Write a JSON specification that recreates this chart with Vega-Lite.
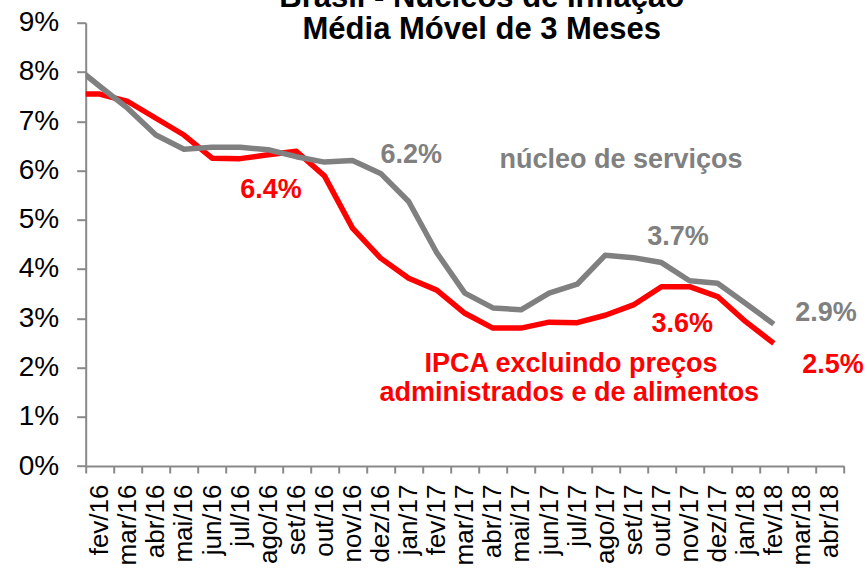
{
  "$schema": "https://vega.github.io/schema/vega-lite/v6.json",
  "width": 758.3,
  "height": 443.3,
  "autosize": {"type": "none"},
  "padding": {"left": 85.7, "top": 22.7, "right": 23, "bottom": 102},
  "background": "white",
  "config": {"view": {"stroke": null}, "font": "Liberation Sans"},
  "datasets": {
    "series": [
      {"i": -1, "mes": "jan/16", "serie": "IPCA excluindo preços administrados e de alimentos", "v": 7.55},
      {"i": 0, "mes": "fev/16", "serie": "IPCA excluindo preços administrados e de alimentos", "v": 7.55},
      {"i": 1, "mes": "mar/16", "serie": "IPCA excluindo preços administrados e de alimentos", "v": 7.40},
      {"i": 2, "mes": "abr/16", "serie": "IPCA excluindo preços administrados e de alimentos", "v": 7.06},
      {"i": 3, "mes": "mai/16", "serie": "IPCA excluindo preços administrados e de alimentos", "v": 6.72},
      {"i": 4, "mes": "jun/16", "serie": "IPCA excluindo preços administrados e de alimentos", "v": 6.25},
      {"i": 5, "mes": "jul/16", "serie": "IPCA excluindo preços administrados e de alimentos", "v": 6.24},
      {"i": 6, "mes": "ago/16", "serie": "IPCA excluindo preços administrados e de alimentos", "v": 6.32},
      {"i": 7, "mes": "set/16", "serie": "IPCA excluindo preços administrados e de alimentos", "v": 6.39},
      {"i": 8, "mes": "out/16", "serie": "IPCA excluindo preços administrados e de alimentos", "v": 5.89},
      {"i": 9, "mes": "nov/16", "serie": "IPCA excluindo preços administrados e de alimentos", "v": 4.83},
      {"i": 10, "mes": "dez/16", "serie": "IPCA excluindo preços administrados e de alimentos", "v": 4.22},
      {"i": 11, "mes": "jan/17", "serie": "IPCA excluindo preços administrados e de alimentos", "v": 3.81},
      {"i": 12, "mes": "fev/17", "serie": "IPCA excluindo preços administrados e de alimentos", "v": 3.57},
      {"i": 13, "mes": "mar/17", "serie": "IPCA excluindo preços administrados e de alimentos", "v": 3.10},
      {"i": 14, "mes": "abr/17", "serie": "IPCA excluindo preços administrados e de alimentos", "v": 2.80},
      {"i": 15, "mes": "mai/17", "serie": "IPCA excluindo preços administrados e de alimentos", "v": 2.80},
      {"i": 16, "mes": "jun/17", "serie": "IPCA excluindo preços administrados e de alimentos", "v": 2.92},
      {"i": 17, "mes": "jul/17", "serie": "IPCA excluindo preços administrados e de alimentos", "v": 2.91},
      {"i": 18, "mes": "ago/17", "serie": "IPCA excluindo preços administrados e de alimentos", "v": 3.06},
      {"i": 19, "mes": "set/17", "serie": "IPCA excluindo preços administrados e de alimentos", "v": 3.27},
      {"i": 20, "mes": "out/17", "serie": "IPCA excluindo preços administrados e de alimentos", "v": 3.64},
      {"i": 21, "mes": "nov/17", "serie": "IPCA excluindo preços administrados e de alimentos", "v": 3.64},
      {"i": 22, "mes": "dez/17", "serie": "IPCA excluindo preços administrados e de alimentos", "v": 3.44},
      {"i": 23, "mes": "jan/18", "serie": "IPCA excluindo preços administrados e de alimentos", "v": 2.93},
      {"i": 24, "mes": "fev/18", "serie": "IPCA excluindo preços administrados e de alimentos", "v": 2.49},
      {"i": -1, "mes": "jan/16", "serie": "núcleo de serviços", "v": 8.17},
      {"i": 0, "mes": "fev/16", "serie": "núcleo de serviços", "v": 7.71},
      {"i": 1, "mes": "mar/16", "serie": "núcleo de serviços", "v": 7.26},
      {"i": 2, "mes": "abr/16", "serie": "núcleo de serviços", "v": 6.72},
      {"i": 3, "mes": "mai/16", "serie": "núcleo de serviços", "v": 6.43},
      {"i": 4, "mes": "jun/16", "serie": "núcleo de serviços", "v": 6.47},
      {"i": 5, "mes": "jul/16", "serie": "núcleo de serviços", "v": 6.47},
      {"i": 6, "mes": "ago/16", "serie": "núcleo de serviços", "v": 6.42},
      {"i": 7, "mes": "set/16", "serie": "núcleo de serviços", "v": 6.28},
      {"i": 8, "mes": "out/16", "serie": "núcleo de serviços", "v": 6.17},
      {"i": 9, "mes": "nov/16", "serie": "núcleo de serviços", "v": 6.20},
      {"i": 10, "mes": "dez/16", "serie": "núcleo de serviços", "v": 5.94},
      {"i": 11, "mes": "jan/17", "serie": "núcleo de serviços", "v": 5.37},
      {"i": 12, "mes": "fev/17", "serie": "núcleo de serviços", "v": 4.33},
      {"i": 13, "mes": "mar/17", "serie": "núcleo de serviços", "v": 3.51},
      {"i": 14, "mes": "abr/17", "serie": "núcleo de serviços", "v": 3.21},
      {"i": 15, "mes": "mai/17", "serie": "núcleo de serviços", "v": 3.17},
      {"i": 16, "mes": "jun/17", "serie": "núcleo de serviços", "v": 3.51},
      {"i": 17, "mes": "jul/17", "serie": "núcleo de serviços", "v": 3.69},
      {"i": 18, "mes": "ago/17", "serie": "núcleo de serviços", "v": 4.28},
      {"i": 19, "mes": "set/17", "serie": "núcleo de serviços", "v": 4.23},
      {"i": 20, "mes": "out/17", "serie": "núcleo de serviços", "v": 4.13},
      {"i": 21, "mes": "nov/17", "serie": "núcleo de serviços", "v": 3.76},
      {"i": 22, "mes": "dez/17", "serie": "núcleo de serviços", "v": 3.71},
      {"i": 23, "mes": "jan/18", "serie": "núcleo de serviços", "v": 3.30},
      {"i": 24, "mes": "fev/18", "serie": "núcleo de serviços", "v": 2.88}
    ],
    "notas": [
      {"t": "6.4%", "i": 6.10, "v": 5.44, "serie": "IPCA excluindo preços administrados e de alimentos"},
      {"t": "3.6%", "i": 20.74, "v": 2.73, "serie": "IPCA excluindo preços administrados e de alimentos"},
      {"t": "2.5%", "i": 26.11, "v": 1.88, "serie": "IPCA excluindo preços administrados e de alimentos"},
      {"t": "IPCA excluindo preços", "i": 16.78, "v": 1.91, "serie": "IPCA excluindo preços administrados e de alimentos"},
      {"t": "administrados e de alimentos", "i": 16.72, "v": 1.31, "serie": "IPCA excluindo preços administrados e de alimentos"},
      {"t": "6.2%", "i": 11.09, "v": 6.15, "serie": "núcleo de serviços"},
      {"t": "núcleo de serviços", "i": 18.56, "v": 6.05, "serie": "núcleo de serviços"},
      {"t": "3.7%", "i": 20.59, "v": 4.49, "serie": "núcleo de serviços"},
      {"t": "2.9%", "i": 25.86, "v": 2.95, "serie": "núcleo de serviços"}
    ]
  },
  "layer": [
    {
      "data": {"name": "series"},
      "mark": {"type": "line", "clip": true, "strokeWidth": 5.5, "strokeJoin": "round"},
      "encoding": {
        "x": {
          "field": "i",
          "type": "quantitative",
          "scale": {"domain": [-0.5, 26.5], "nice": false, "zero": false},
          "axis": {
            "values": [-0.5, 0.5, 1.5, 2.5, 3.5, 4.5, 5.5, 6.5, 7.5, 8.5, 9.5, 10.5, 11.5, 12.5, 13.5, 14.5, 15.5, 16.5, 17.5, 18.5, 19.5, 20.5, 21.5, 22.5, 23.5, 24.5, 25.5, 26.5],
            "tickCount": 200,
            "labelExpr": "['fev/16','mar/16','abr/16','mai/16','jun/16','jul/16','ago/16','set/16','out/16','nov/16','dez/16','jan/17','fev/17','mar/17','abr/17','mai/17','jun/17','jul/17','ago/17','set/17','out/17','nov/17','dez/17','jan/18','fev/18','mar/18','abr/18',''][round(datum.value + 0.5)]",
            "labelAngle": -90,
            "labelOffset": 14,
            "labelFontSize": 26,
            "labelFont": "Liberation Sans",
            "labelColor": "#000000",
            "labelPadding": 11,
            "labelOverlap": false,
            "labelBound": false,
            "labelFlush": false,
            "tickSize": 7,
            "tickWidth": 2,
            "tickColor": "#898989",
            "domainColor": "#898989",
            "domainWidth": 2,
            "grid": false,
            "title": null
          }
        },
        "y": {
          "field": "v",
          "type": "quantitative",
          "scale": {"domain": [0, 9], "nice": false, "zero": true},
          "axis": {
            "values": [0, 1, 2, 3, 4, 5, 6, 7, 8, 9],
            "tickCount": 100,
            "labelExpr": "datum.value + '%'",
            "labelFontSize": 28,
            "labelFont": "Liberation Sans",
            "labelColor": "#000000",
            "labelPadding": 18,
            "labelOverlap": false,
            "labelFlush": false,
            "tickSize": 9,
            "tickWidth": 2,
            "tickColor": "#898989",
            "domainColor": "#898989",
            "domainWidth": 2,
            "grid": false,
            "title": null
          }
        },
        "color": {
          "field": "serie",
          "type": "nominal",
          "scale": {"domain": ["IPCA excluindo preços administrados e de alimentos", "núcleo de serviços"], "range": ["#ff0000", "#808080"]},
          "legend": null
        }
      }
    },
    {
      "data": {"name": "notas"},
      "mark": {"type": "text", "font": "Liberation Sans", "fontWeight": "bold", "fontSize": 27, "align": "center", "baseline": "alphabetic"},
      "encoding": {
        "x": {"field": "i", "type": "quantitative"},
        "y": {"field": "v", "type": "quantitative"},
        "text": {"field": "t", "type": "nominal"},
        "color": {"field": "serie", "type": "nominal", "legend": null}
      }
    },
    {
      "data": {"values": [{}]},
      "mark": {"type": "text", "text": "Brasil - Núcleos de Inflação", "font": "Liberation Sans", "fontWeight": "bold", "fontSize": 31, "align": "center", "baseline": "alphabetic", "color": "#000000"},
      "encoding": {
        "x": {"datum": 13.6, "type": "quantitative"},
        "y": {"datum": 9.31, "type": "quantitative"}
      }
    },
    {
      "data": {"values": [{}]},
      "mark": {"type": "text", "text": "Média Móvel de 3 Meses", "font": "Liberation Sans", "fontWeight": "bold", "fontSize": 31, "align": "center", "baseline": "alphabetic", "color": "#000000"},
      "encoding": {
        "x": {"datum": 13.6, "type": "quantitative"},
        "y": {"datum": 8.66, "type": "quantitative"}
      }
    }
  ]
}
